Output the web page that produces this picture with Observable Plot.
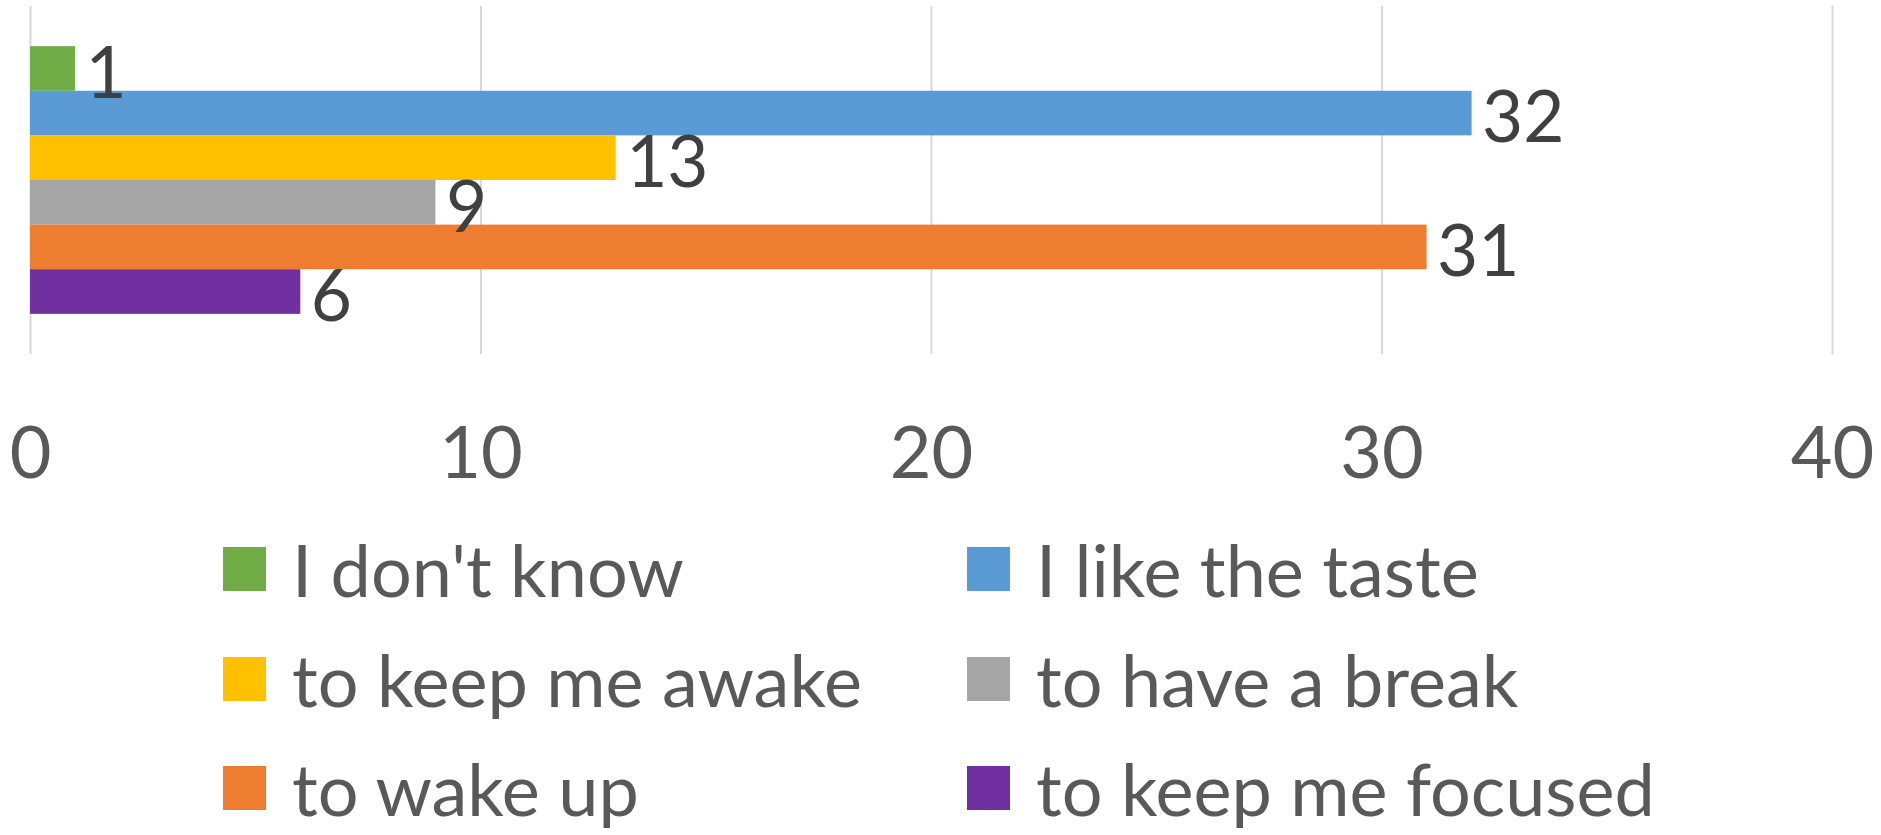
<!DOCTYPE html>
<html>
<head>
<meta charset="utf-8">
<script src="https://cdn.jsdelivr.net/npm/d3@7"></script>
<script src="https://cdn.jsdelivr.net/npm/@observablehq/plot@0.6"></script>
<style>
  html, body { margin: 0; padding: 0; background: #fff; }
  body { width: 1881px; height: 835px; overflow: hidden; font-family: Lato, "Open Sans", sans-serif; }
  #chart svg { display: block; }
  #legend { position: relative; width: 1881px; height: 325px; }
  .item { position: absolute; display: flex; align-items: center; height: 90px; }
  .sw { width: 43px; height: 44px; margin-right: 26px; flex: none; }
  .lbl { font-size: 72px; color: #595959; white-space: nowrap; line-height: 90px; }
</style>
</head>
<body>
<div id="chart"></div>
<div id="legend"></div>
<script>
const categories = ["I don't know", "I like the taste", "to keep me awake", "to have a break", "to wake up", "to keep me focused"];
const values = [1, 32, 13, 9, 31, 6];
const colors = ["#70AD47", "#5B9BD5", "#FFC000", "#A5A5A5", "#ED7D31", "#7030A0"];
const xTicks = [0, 10, 20, 30, 40];

const data = categories.map((c, i) => ({category: c, value: values[i]}));

const plot = Plot.plot({
  width: 1881,
  height: 510,
  marginTop: 6,
  marginBottom: 156,
  marginLeft: 30,
  marginRight: 49,
  style: {fontFamily: "Lato, 'Open Sans', sans-serif", background: "#fff"},
  x: {domain: [0, 40], ticks: xTicks},
  y: {domain: categories, paddingInner: 0, paddingOuter: 0.9, round: false, axis: null},
  color: {domain: categories, range: colors},
  marks: [
    Plot.ruleX(xTicks, {stroke: "#d9d9d9", strokeWidth: 2}),
    Plot.barX(data, {x: "value", y: "category", fill: "category"}),
    Plot.text(data, {x: "value", y: "category", text: d => String(d.value), textAnchor: "start", dx: 10, dy: 6, fontSize: 71, fill: "#404040"}),
    Plot.axisX({ticks: xTicks, tickSize: 0, tickPadding: 72, fontSize: 72, color: "#595959", tickFormat: d => String(d), label: null})
  ]
});
document.getElementById("chart").appendChild(plot);

// legend built from the same arrays
const legend = document.getElementById("legend");
const colX = [223, 967];
const rowY = [14, 124, 233];
categories.forEach((c, i) => {
  const item = document.createElement("div");
  item.className = "item";
  item.style.left = colX[i % 2] + "px";
  item.style.top = rowY[Math.floor(i / 2)] + "px";
  const sw = document.createElement("div");
  sw.className = "sw";
  sw.style.background = colors[i];
  const lb = document.createElement("span");
  lb.className = "lbl";
  lb.textContent = c;
  item.appendChild(sw);
  item.appendChild(lb);
  legend.appendChild(item);
});
</script>
</body>
</html>
